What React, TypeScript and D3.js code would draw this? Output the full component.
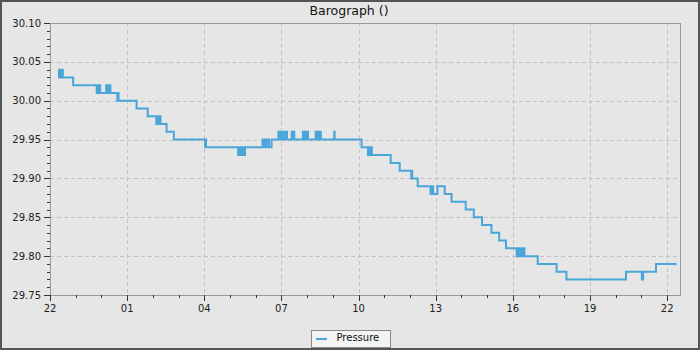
import React from "react";
import * as d3 from "d3";

const TITLE = "Barograph ()";
const SERIES_NAME = "Pressure";

const times: string[] = [
  "2023-10-05T22:19", "2023-10-05T22:21", "2023-10-05T22:22", "2023-10-05T22:24", "2023-10-05T22:25", "2023-10-05T22:27", "2023-10-05T22:28", "2023-10-05T22:30",
  "2023-10-05T22:54",
  "2023-10-05T23:49", "2023-10-05T23:50", "2023-10-05T23:51", "2023-10-05T23:52", "2023-10-05T23:53", "2023-10-05T23:55", "2023-10-05T23:57",
  "2023-10-06T00:11", "2023-10-06T00:12", "2023-10-06T00:13", "2023-10-06T00:15", "2023-10-06T00:16", "2023-10-06T00:18", "2023-10-06T00:19", "2023-10-06T00:21",
  "2023-10-06T00:37", "2023-10-06T00:38", "2023-10-06T00:40",
  "2023-10-06T01:22",
  "2023-10-06T01:48",
  "2023-10-06T02:08", "2023-10-06T02:10", "2023-10-06T02:11", "2023-10-06T02:13", "2023-10-06T02:14", "2023-10-06T02:16", "2023-10-06T02:18",
  "2023-10-06T02:32",
  "2023-10-06T02:49",
  "2023-10-06T04:02", "2023-10-06T04:03", "2023-10-06T04:04",
  "2023-10-06T05:19", "2023-10-06T05:20", "2023-10-06T05:21", "2023-10-06T05:23", "2023-10-06T05:25", "2023-10-06T05:27", "2023-10-06T05:29", "2023-10-06T05:31", "2023-10-06T05:33", "2023-10-06T05:35",
  "2023-10-06T06:16", "2023-10-06T06:18", "2023-10-06T06:19", "2023-10-06T06:21", "2023-10-06T06:22", "2023-10-06T06:24", "2023-10-06T06:26",
  "2023-10-06T06:31", "2023-10-06T06:37",
  "2023-10-06T06:53", "2023-10-06T06:55", "2023-10-06T06:56", "2023-10-06T06:58", "2023-10-06T06:59", "2023-10-06T07:01", "2023-10-06T07:03", "2023-10-06T07:05", "2023-10-06T07:07", "2023-10-06T07:09", "2023-10-06T07:10", "2023-10-06T07:13",
  "2023-10-06T07:24", "2023-10-06T07:26", "2023-10-06T07:27", "2023-10-06T07:30",
  "2023-10-06T07:50", "2023-10-06T07:52", "2023-10-06T07:53", "2023-10-06T07:55", "2023-10-06T07:56", "2023-10-06T07:58", "2023-10-06T07:59", "2023-10-06T08:02",
  "2023-10-06T08:20", "2023-10-06T08:22", "2023-10-06T08:23", "2023-10-06T08:25", "2023-10-06T08:26", "2023-10-06T08:28", "2023-10-06T08:29", "2023-10-06T08:32",
  "2023-10-06T09:03", "2023-10-06T09:04",
  "2023-10-06T10:07",
  "2023-10-06T10:22", "2023-10-06T10:24", "2023-10-06T10:25", "2023-10-06T10:26", "2023-10-06T10:28", "2023-10-06T10:29", "2023-10-06T10:31",
  "2023-10-06T11:15",
  "2023-10-06T11:36",
  "2023-10-06T12:03", "2023-10-06T12:04", "2023-10-06T12:05",
  "2023-10-06T12:18",
  "2023-10-06T12:48", "2023-10-06T12:50", "2023-10-06T12:51", "2023-10-06T12:52", "2023-10-06T12:54",
  "2023-10-06T13:04",
  "2023-10-06T13:21",
  "2023-10-06T13:37",
  "2023-10-06T14:10",
  "2023-10-06T14:29",
  "2023-10-06T14:48",
  "2023-10-06T15:10",
  "2023-10-06T15:28",
  "2023-10-06T15:44",
  "2023-10-06T16:09", "2023-10-06T16:11", "2023-10-06T16:12", "2023-10-06T16:14", "2023-10-06T16:15", "2023-10-06T16:17", "2023-10-06T16:19", "2023-10-06T16:21", "2023-10-06T16:23", "2023-10-06T16:25", "2023-10-06T16:27",
  "2023-10-06T16:58",
  "2023-10-06T17:42",
  "2023-10-06T18:05",
  "2023-10-06T20:24",
  "2023-10-06T21:01", "2023-10-06T21:04",
  "2023-10-06T21:34",
  "2023-10-06T22:22",
];

const pressure: number[] = [
  30.04, 30.03, 30.04, 30.03, 30.04, 30.03, 30.04, 30.03,
  30.02,
  30.01, 30.02, 30.01, 30.02, 30.01, 30.02, 30.01,
  30.02, 30.01, 30.02, 30.01, 30.02, 30.01, 30.02, 30.01,
  30.00, 30.01, 30.00,
  29.99,
  29.98,
  29.97, 29.98, 29.97, 29.98, 29.97, 29.98, 29.97,
  29.96,
  29.95,
  29.94, 29.95, 29.94,
  29.93, 29.94, 29.93, 29.94, 29.93, 29.94, 29.93, 29.94, 29.93, 29.94,
  29.95, 29.94, 29.95, 29.94, 29.95, 29.94, 29.95,
  29.94, 29.95,
  29.96, 29.95, 29.96, 29.95, 29.96, 29.95, 29.96, 29.95, 29.96, 29.95, 29.96, 29.95,
  29.96, 29.95, 29.96, 29.95,
  29.96, 29.95, 29.96, 29.95, 29.96, 29.95, 29.96, 29.95,
  29.96, 29.95, 29.96, 29.95, 29.96, 29.95, 29.96, 29.95,
  29.96, 29.95,
  29.94,
  29.93, 29.94, 29.93, 29.94, 29.93, 29.94, 29.93,
  29.92,
  29.91,
  29.90, 29.91, 29.90,
  29.89,
  29.88, 29.89, 29.88, 29.89, 29.88,
  29.89,
  29.88,
  29.87,
  29.86,
  29.85,
  29.84,
  29.83,
  29.82,
  29.81,
  29.80, 29.81, 29.80, 29.81, 29.80, 29.81, 29.80, 29.81, 29.80, 29.81, 29.80,
  29.79,
  29.78,
  29.77,
  29.78,
  29.77, 29.78,
  29.79,
  29.79,
];

const xDomain: string[] = ["2023-10-05T22:00", "2023-10-06T22:30"];
const yDomain: number[] = [29.75, 30.1];
const yMajorTicks: number[] = [29.75, 29.8, 29.85, 29.9, 29.95, 30.0, 30.05, 30.1];

const W = 700, H = 350;
const M = { left: 50, right: 680, top: 23, bottom: 295 };
const LINE_COLOR = "#4aa6d8";
const FONT = "DejaVu Sans, sans-serif";

export default function App() {
  const parse = (s: string) => new Date(s);
  const x = d3.scaleTime().domain(xDomain.map(parse)).range([M.left, M.right]);
  const y = d3.scaleLinear().domain(yDomain).range([M.bottom, M.top]);

  const data = times.map((t, i) => ({ t: parse(t), v: pressure[i] }));
  const line = d3
    .line<{ t: Date; v: number }>()
    .x((d) => x(d.t))
    .y((d) => y(d.v))
    .curve(d3.curveStepAfter);

  const [d0, d1] = x.domain();
  const xMajor = d3.timeHour.range(d0, d1, 3);
  const xMinor = d3.timeHour.range(d0, d1);
  const fmt = d3.timeFormat("%H");

  const yMinor = d3.range(0, 36).map((i) => +(29.75 + i * 0.01).toFixed(2));

  return (
    <svg
      width={W}
      height={H}
      style={{ position: "absolute", left: 0, top: 0, fontFamily: FONT }}
    >
      <rect x={0} y={0} width={W} height={H} fill="#e6e6e6" />
      <rect x={1} y={1} width={W - 2} height={H - 2} fill="none" stroke="#555" strokeWidth={2} />
      <text x={349} y={15} textAnchor="middle" fontSize={12.5} fill="#111">
        {TITLE}
      </text>

      {/* grid */}
      <g stroke="#c2c2c2" strokeWidth={1} strokeDasharray="4,3" fill="none">
        {xMajor.map((d, i) => (
          <line key={"gx" + i} x1={Math.round(x(d)) + 0.5} x2={Math.round(x(d)) + 0.5} y1={M.top} y2={M.bottom} />
        ))}
        {yMajorTicks.map((v, i) => (
          <line key={"gy" + i} x1={M.left} x2={M.right} y1={Math.round(y(v)) + 0.5} y2={Math.round(y(v)) + 0.5} />
        ))}
      </g>

      {/* frame */}
      <rect
        x={M.left + 0.5}
        y={M.top + 0.5}
        width={M.right - M.left}
        height={M.bottom - M.top}
        fill="none"
        stroke="#9a9a9a"
        strokeWidth={1}
      />

      {/* series */}
      <path d={line(data) || ""} fill="none" stroke={LINE_COLOR} strokeWidth={2} />

      {/* ticks */}
      <g stroke="#333" strokeWidth={1}>
        {yMinor.map((v, i) => (
          <line key={"ym" + i} x1={M.left - 3} x2={M.left} y1={Math.round(y(v)) + 0.5} y2={Math.round(y(v)) + 0.5} />
        ))}
        {yMajorTicks.map((v, i) => (
          <line key={"yM" + i} x1={M.left - 6} x2={M.left} y1={Math.round(y(v)) + 0.5} y2={Math.round(y(v)) + 0.5} />
        ))}
        {xMinor.map((d, i) => (
          <line key={"xm" + i} x1={Math.round(x(d)) + 0.5} x2={Math.round(x(d)) + 0.5} y1={M.bottom} y2={M.bottom + 3} />
        ))}
        {xMajor.map((d, i) => (
          <line key={"xM" + i} x1={Math.round(x(d)) + 0.5} x2={Math.round(x(d)) + 0.5} y1={M.bottom} y2={M.bottom + 6} />
        ))}
      </g>
      <g fontSize={10} fill="#222">
        {yMajorTicks.map((v, i) => (
          <text key={"yl" + i} x={M.left - 9} y={y(v) + 3.5} textAnchor="end">
            {v.toFixed(2)}
          </text>
        ))}
        {xMajor.map((d, i) => (
          <text key={"xl" + i} x={x(d)} y={312} textAnchor="middle">
            {fmt(d)}
          </text>
        ))}
      </g>

      {/* legend */}
      <rect x={311.5} y={330.5} width={79} height={17} fill="#f3f3f3" stroke="#8a8a8a" strokeWidth={1} />
      <line x1={316} x2={327} y1={339} y2={339} stroke={LINE_COLOR} strokeWidth={2} />
      <text x={336.5} y={341} fontSize={10} fill="#111">
        {SERIES_NAME}
      </text>
    </svg>
  );
}
